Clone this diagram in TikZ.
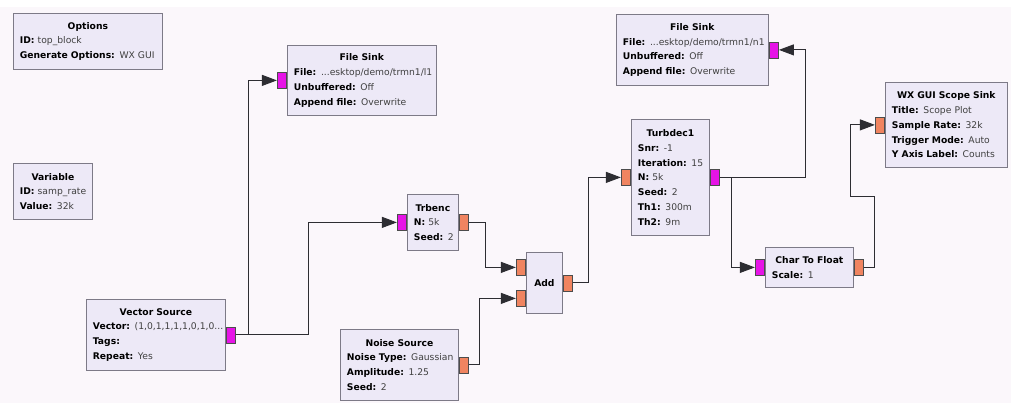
\documentclass[tikz,border=0pt]{standalone}
\usepackage{fontspec}
\setmainfont{DejaVu Sans}
\usetikzlibrary{arrows.meta}
\usetikzlibrary{positioning}
\definecolor{bgcol}{RGB}{251,247,251}
\definecolor{blkfill}{RGB}{237,233,247}
\definecolor{blkdraw}{RGB}{125,122,135}
\definecolor{bytecol}{RGB}{230,20,230}
\definecolor{floatcol}{RGB}{240,132,96}
\definecolor{wirecol}{RGB}{45,45,50}
\pgfmathsetmacro{\pw}{9.5}
\pgfmathsetmacro{\ph}{16}
\newlength{\blkpad}
\setlength{\blkpad}{6.5pt}
\newcommand{\blktitle}[1]{\makebox[\linewidth]{\textbf{#1}}}
\newcommand{\prm}[2]{\mbox{\textbf{#1:} {\color{black!75}#2}}}
\tikzset{
  blk/.style 2 args={draw=blkdraw, fill=blkfill, line width=0.8pt, anchor=north west,
    inner xsep=\blkpad, inner ysep=0pt, text width=#1-13, minimum height=#2,
    align=left, font=\fontsize{9.2}{14.8}\selectfont},
  bport/.style={draw=black!70, fill=bytecol, line width=0.6pt, minimum width=\pw,
    minimum height=\ph, inner sep=0pt},
  fport/.style={bport, fill=floatcol},
  wire/.style={draw=wirecol, line width=1pt, -{Triangle[length=15pt,width=11pt]}}
}
\begin{document}
\begin{tikzpicture}[x=1pt, y=-1pt]
\useasboundingbox (0,0) rectangle (1011,403);
\fill[bgcol] (0,0) rectangle (1011,403);
\fill[white] (0,0) rectangle (1011,7);

\node[blk={149}{56}] (options) at (13,13) {\blktitle{Options}\\
    \prm{ID}{top\_block}\\
    \prm{Generate Options}{WX GUI}};
\node[blk={79}{56}] (variable) at (13,163) {\blktitle{Variable}\\
    \prm{ID}{samp\_rate}\\
    \prm{Value}{32k}};
\node[blk={139}{71}] (vecsrc) at (86,299) {\blktitle{Vector Source}\\
    \prm{Vector}{(1,0,1,1,1,1,0,1,0...}\\
    \prm{Tags}{}\\
    \prm{Repeat}{Yes}};
\node[blk={149}{70}] (filesink1) at (287,45) {\blktitle{File Sink}\\
    \prm{File}{...esktop/demo/trmn1/l1}\\
    \prm{Unbuffered}{Off}\\
    \prm{Append file}{Overwrite}};
\node[blk={152}{71}] (filesink2) at (616,14) {\blktitle{File Sink}\\
    \prm{File}{...esktop/demo/trmn1/n1}\\
    \prm{Unbuffered}{Off}\\
    \prm{Append file}{Overwrite}};
\node[blk={51}{56}] (trbenc) at (407,194) {\blktitle{Trbenc}\\
    \prm{N}{5k}\\
    \prm{Seed}{2}};
\node[blk={118}{71}] (noisesrc) at (340,329) {\blktitle{Noise Source}\\
    \prm{Noise Type}{Gaussian}\\
    \prm{Amplitude}{1.25}\\
    \prm{Seed}{2}};
\node[blk={36}{61}] (add) at (526,252) {\blktitle{Add}};
\node[blk={78}{116}] (turbdec) at (631,119) {\blktitle{Turbdec1}\\
    \prm{Snr}{-1}\\
    \prm{Iteration}{15}\\
    \prm{N}{5k}\\
    \prm{Seed}{2}\\
    \prm{Th1}{300m}\\
    \prm{Th2}{9m}};
\node[blk={88}{40}] (chartofloat) at (765,247) {\blktitle{Char To Float}\\
    \prm{Scale}{1}};
\node[blk={122}{85}] (scope) at (885,82) {\blktitle{WX GUI Scope Sink}\\
    \prm{Title}{Scope Plot}\\
    \prm{Sample Rate}{32k}\\
    \prm{Trigger Mode}{Auto}\\
    \prm{Y Axis Label}{Counts}};

\node[bport, right=0pt of vecsrc] (vsout) {};
\node[bport, left=0pt of filesink1] (fs1in) {};
\node[bport, right=0pt of filesink2] (fs2in) {};
\node[bport, left=0pt of trbenc] (trin) {};
\node[fport, right=0pt of trbenc] (trout) {};
\node[fport, right=0pt of noisesrc] (nsout) {};
\node[fport, left=0pt of add, yshift=15.5pt] (addin1) {};
\node[fport, left=0pt of add, yshift=-15.5pt] (addin2) {};
\node[fport, right=0pt of add] (addout) {};
\node[fport, left=0pt of turbdec] (tdin) {};
\node[bport, right=0pt of turbdec] (tdout) {};
\node[bport, left=0pt of chartofloat] (cfin) {};
\node[fport, right=0pt of chartofloat] (cfout) {};
\node[fport, left=0pt of scope] (scin) {};

\draw[wire] (vsout.east) -- ++(13,0) |- (fs1in.west);
\draw[wire] (vsout.east) -- ++(73,0) |- (trin.west);
\draw[wire] (trout.east) -- ++(17,0) |- (addin1.west);
\draw[wire] (nsout.east) -- ++(11,0) |- (addin2.west);
\draw[wire] (addout.east) -- ++(16,0) |- (tdin.west);
\draw[wire] (tdout.east) -- ++(86,0) |- (fs2in.east);
\draw[wire] (tdout.east) -- ++(12,0) |- (cfin.west);
\draw[wire] (cfout.east) -- ++(11,0) -- ++(0,-71) -- ++(-24,0) |- (scin.west);
\end{tikzpicture}
\end{document}
